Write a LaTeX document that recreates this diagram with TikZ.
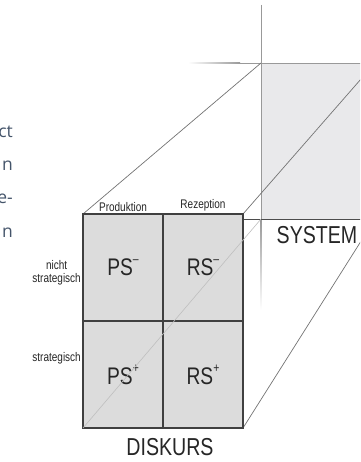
\documentclass[tikz,border=0pt]{standalone}
\usepackage{fontspec}
\newfontfamily\diafont{Liberation Sans}[FakeStretch=0.8]
\newfontfamily\slidefont{Open Sans}
\usetikzlibrary{positioning}
\definecolor{cellgray}{HTML}{DCDCDC}
\definecolor{sysgray}{HTML}{E9E9EB}
\definecolor{slate}{HTML}{44546A}
\newcommand{\sgnsup}[1]{\raisebox{.5em}{\fontsize{13}{13}\selectfont #1}}

\begin{document}
\begin{tikzpicture}[x=1pt,y=-1pt,
    cell/.style={draw=black!75, line width=1.2pt, fill=cellgray,
      minimum width=80pt, minimum height=107pt, inner sep=0pt,
      font=\diafont\fontsize{24}{24}\selectfont, text=black!85},
    small/.style={font=\diafont\fontsize{12.5}{13.5}\selectfont, inner sep=1pt, text=black!85},
    big/.style={font=\diafont\fontsize{24.5}{24.5}\selectfont, inner sep=0pt, text=black!85},
    slide/.style={font=\slidefont\fontsize{17.5}{17.5}\selectfont, text=slate,
      anchor=base east, inner sep=0pt},
    persp/.style={draw=black!55, line width=0.7pt}]

  \useasboundingbox (0,0) rectangle (360,462);
  \clip (0,0) rectangle (360,462);

  % corners
  \coordinate (dtl) at (83,214);
  \coordinate (dtr) at (243,214);
  \coordinate (dbl) at (83,428);
  \coordinate (dbr) at (243,428);
  \coordinate (stl) at (261,63);
  \coordinate (str) at (375,63);
  \coordinate (sbl) at (261,219);
  \coordinate (sbr) at (375,219);
  \coordinate (sbase) at (243,219);

  % system plane
  \fill[sysgray] (stl) rectangle (sbr);
  \draw[black!40, line width=0.8pt] (261,5) -- (sbl);
  \shade[top color=black!40, bottom color=white] (260.6,219) rectangle (261.4,310);
  \draw[black!40, line width=0.8pt] (240,63) -- (str);
  \shade[left color=white, right color=black!40] (188,62.6) rectangle (240,63.4);
  \draw[black!70, line width=0.8pt] (sbase) -- (sbr);

  \path[persp] (dtl) edge (stl)
               (dtr) edge (str)
               (dbr) edge (sbr);

  % discourse grid
  \begin{scope}[every node/.style={cell}]
    \node (psminus) at (123,267.5) {PS\sgnsup{–}};
    \node (rsminus) at (203,267.5) {RS\sgnsup{–}};
    \node (psplus)  at (123,374.5) {PS\sgnsup{+}};
    \node (rsplus)  at (203,374.5) {RS\sgnsup{+}};
  \end{scope}

  \draw[black!25, line width=0.6pt] (dbl) -- (sbl);

  % labels
  \node[small, above=1pt of psminus] (prod) {Produktion};
  \node[small, above=1pt of rsminus] (rez) {Rezeption};
  \node[small, align=center, anchor=east] (nstrat) at (82,273) {nicht\\strategisch};
  \node[small, anchor=east] (strat) at (82,358) {strategisch};
  \node[big] (diskurs) at (170,447.5) {DISKURS};
  \node[big] (system) at (317,235.5) {SYSTEM};

  % cut-off slide text
  \node[slide] (t1) at (13,138) {ct};
  \node[slide] (t2) at (13,171) {n};
  \node[slide] (t3) at (13,204) {e-};
  \node[slide] (t4) at (13,237) {n};

\end{tikzpicture}
\end{document}
